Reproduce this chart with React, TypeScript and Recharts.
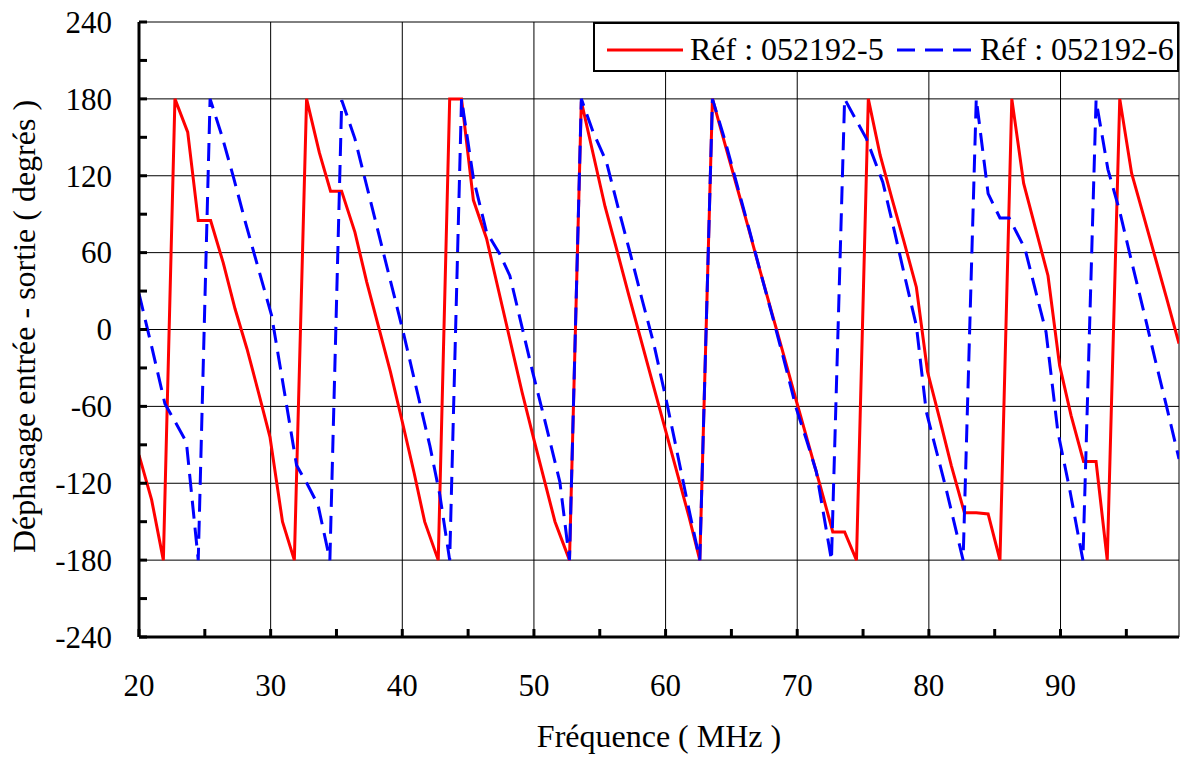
import React from 'react'
import { LineChart, Line, XAxis, YAxis, CartesianGrid, Legend, Label } from 'recharts'

const redFreq = [
  20, 20.96, 21.85, 22.73, 23.7, 24.5, 25.44, 26.4, 27.3, 28.2, 29.1, 29.95, 30.9, 31.8,
  32.73, 33.7, 34.55, 35.39, 36.4, 37.3, 38.2, 39.1, 40.0, 40.9, 41.7, 42.73, 43.6, 44.5,
  45.4, 46.4, 47.3, 48.2, 49.1, 50.0, 50.8, 51.6, 52.7, 53.6, 54.5, 55.4, 56.3, 57.2, 58.1,
  59.0, 59.9, 60.8, 61.8, 62.6, 63.56, 64.5, 65.4, 66.3, 67.2, 68.1, 69.0, 69.94, 70.9, 71.8,
  72.7, 73.6, 74.5, 75.4, 76.3, 77.2, 78.1, 79.05, 79.9, 80.8, 81.7, 82.7, 83.6, 84.5, 85.4,
  86.3, 87.2, 88.1, 89.05, 89.93, 90.8, 91.75, 92.7, 93.55, 94.5, 95.4, 96.3, 97.2, 98.1, 99.0,
]
const redPhase = [
  -98, -133, -180, 180, 154, 85, 85, 52, 16, -15, -50, -84, -150, -180,
  180, 138, 108, 108, 76, 37, 2, -33, -72, -112, -150, -180, 180, 180,
  101, 71, 31, -9, -49, -86, -118, -150, -180, 178, 137, 96, 62, 27, -7,
  -41, -75, -109, -147, -180, 180, 145, 112, 79, 45, 12, -21, -56, -91, -124,
  -158, -158, -180, 180, 136, 102, 69, 33, -33, -69, -106, -143, -143, -144, -180,
  180, 114, 79, 42, -28, -67, -103, -103, -180, 180, 122, 89, 56, 23, -11,
]

const blueFreq = [
  20, 21, 21.97, 22.8, 23.6, 24.5, 25.4, 26.3, 27.2, 28.1, 29.0, 30.07, 31.0, 31.97, 32.8,
  33.6, 34.5, 35.4, 36.4, 37.3, 38.2, 39.1, 40.07, 41.3, 42.1, 42.85, 43.6, 44.5, 45.4, 46.4,
  47.4, 48.17, 49.0, 49.9, 50.9, 51.97, 52.7, 53.6, 54.5, 55.5, 56.4, 57.3, 58.2, 59.1, 60.07,
  60.8, 61.6, 62.6, 63.56, 64.5, 65.4, 66.3, 67.2, 68.1, 69.0, 69.94, 70.7, 71.45, 72.6, 73.6,
  74.5, 75.25, 76.5, 77.4, 78.2, 79.05, 79.8, 80.6, 81.3, 82.6, 83.6, 84.5, 85.4, 86.1, 87.3,
  88.9, 89.8, 90.7, 91.7, 92.7, 93.6, 94.5, 95.4, 96.3, 97.2, 98.1, 99.0,
]
const bluePhase = [
  28, -15, -58, -73, -88, -180, 180, 151, 118, 83, 50, 11, -46, -106, -121,
  -137, -180, 179, 149, 112, 75, 38, -2, -56, -91, -129, -180, 180, 118, 76,
  59, 42, 6, -33, -74, -119, -180, 180, 154, 131, 95, 60, 24, -11, -56,
  -92, -132, -180, 180, 148, 114, 80, 45, 11, -24, -62, -86, -111, -180, 180,
  163, 149, 115, 76, 40, 3, -64, -96, -124, -180, 180, 106, 87, 87, 63,
  -2, -80, -125, -180, 179, 125, 92, 53, 15, -24, -62, -101,
]

const seriesNames = ['Réf : 052192-5', 'Réf : 052192-6']

const xDomain = [20, 99]
const yDomain = [-240, 240]
const xTicks = [20, 25, 30, 35, 40, 45, 50, 55, 60, 65, 70, 75, 80, 85, 90, 95]
const yTicks = [-240, -210, -180, -150, -120, -90, -60, -30, 0, 30, 60, 90, 120, 150, 180, 210, 240]
const xGrid = [30, 40, 50, 60, 70, 80, 90, 99]
const yGrid = [-180, -120, -60, 0, 60, 120, 180, 240]

const redData = redFreq.map((f, i) => ({ f, phase: redPhase[i] }))
const blueData = blueFreq.map((f, i) => ({ f, phase: bluePhase[i] }))

const FONT = '"Liberation Serif", "Times New Roman", serif'

function YTick(props: any) {
  const { x, y, payload } = props
  if (payload.value % 60 !== 0) return <g />
  return (
    <text x={x} y={y} dy="0.35em" textAnchor="end" fontFamily={FONT} fontSize={31} fill="#000">
      {payload.value}
    </text>
  )
}

function XTick(props: any) {
  const { x, y, payload } = props
  if (payload.value % 10 !== 0) return <g />
  return (
    <text x={x} y={y} textAnchor="middle" fontFamily={FONT} fontSize={31} fill="#000">
      {payload.value}
    </text>
  )
}

function LegendBox() {
  return (
    <div style={{ width: 586, height: 50, boxSizing: 'border-box', border: '2px solid #000', background: '#fff' }}>
      <svg width={582} height={46} style={{ display: 'block' }}>
        <line x1={12} x2={88} y1={26} y2={26} stroke="#FF0000" strokeWidth={3} />
        <text x={95} y={36} fontFamily={FONT} fontSize={32} fill="#000">{seriesNames[0]}</text>
        <line x1={302} x2={377} y1={26} y2={26} stroke="#0000FF" strokeWidth={3} strokeDasharray="18 10" />
        <text x={385} y={36} fontFamily={FONT} fontSize={32} fill="#000">{seriesNames[1]}</text>
      </svg>
    </div>
  )
}

export default function App() {
  return (
    <div style={{ position: 'absolute', left: 0, top: 0, background: '#fff' }}>
      <LineChart width={1183} height={758} margin={{ top: 22, right: 4, bottom: 61, left: 39 }}>
        <CartesianGrid
          horizontalValues={yGrid}
          verticalValues={xGrid}
          stroke="#000"
          strokeWidth={1}
          strokeDasharray=""
        />
        <XAxis
          dataKey="f"
          type="number"
          domain={xDomain}
          ticks={xTicks}
          interval={0}
          allowDataOverflow
          height={60}
          tickSize={-8}
          tickMargin={67}
          tick={<XTick />}
          axisLine={{ stroke: '#000', strokeWidth: 3 }}
          tickLine={{ stroke: '#000', strokeWidth: 3 }}
        >
          <Label
            content={(p: any) => {
              const vb = p.viewBox
              return (
                <text x={vb.x + vb.width / 2} y={747} textAnchor="middle" fontFamily={FONT} fontSize={32} fill="#000">
                  Fréquence ( MHz )
                </text>
              )
            }}
          />
        </XAxis>
        <YAxis
          type="number"
          domain={yDomain}
          ticks={yTicks}
          interval={0}
          allowDataOverflow
          width={100}
          tickSize={-8}
          tickMargin={35}
          tick={<YTick />}
          axisLine={{ stroke: '#000', strokeWidth: 3 }}
          tickLine={{ stroke: '#000', strokeWidth: 3 }}
        >
          <Label
            content={(p: any) => {
              const vb = p.viewBox
              const cy = vb.y + vb.height / 2 - 3
              return (
                <text
                  x={35}
                  y={cy}
                  transform={`rotate(-90, 35, ${cy})`}
                  textAnchor="middle"
                  fontFamily={FONT}
                  fontSize={32}
                  fill="#000"
                >
                  Déphasage entrée - sortie ( degrés )
                </text>
              )
            }}
          />
        </YAxis>
        <Legend
          layout="horizontal"
          verticalAlign="middle"
          align="center"
          wrapperStyle={{ left: 593, top: 22, width: 586 }}
          content={() => <LegendBox />}
        />
        <Line
          data={redData}
          dataKey="phase"
          name={seriesNames[0]}
          type="linear"
          stroke="#FF0000"
          strokeWidth={3}
          dot={false}
          activeDot={false}
          isAnimationActive={false}
        />
        <Line
          data={blueData}
          dataKey="phase"
          name={seriesNames[1]}
          type="linear"
          stroke="#0000FF"
          strokeWidth={3}
          strokeDasharray="18 9"
          dot={false}
          activeDot={false}
          isAnimationActive={false}
        />
      </LineChart>
    </div>
  )
}
